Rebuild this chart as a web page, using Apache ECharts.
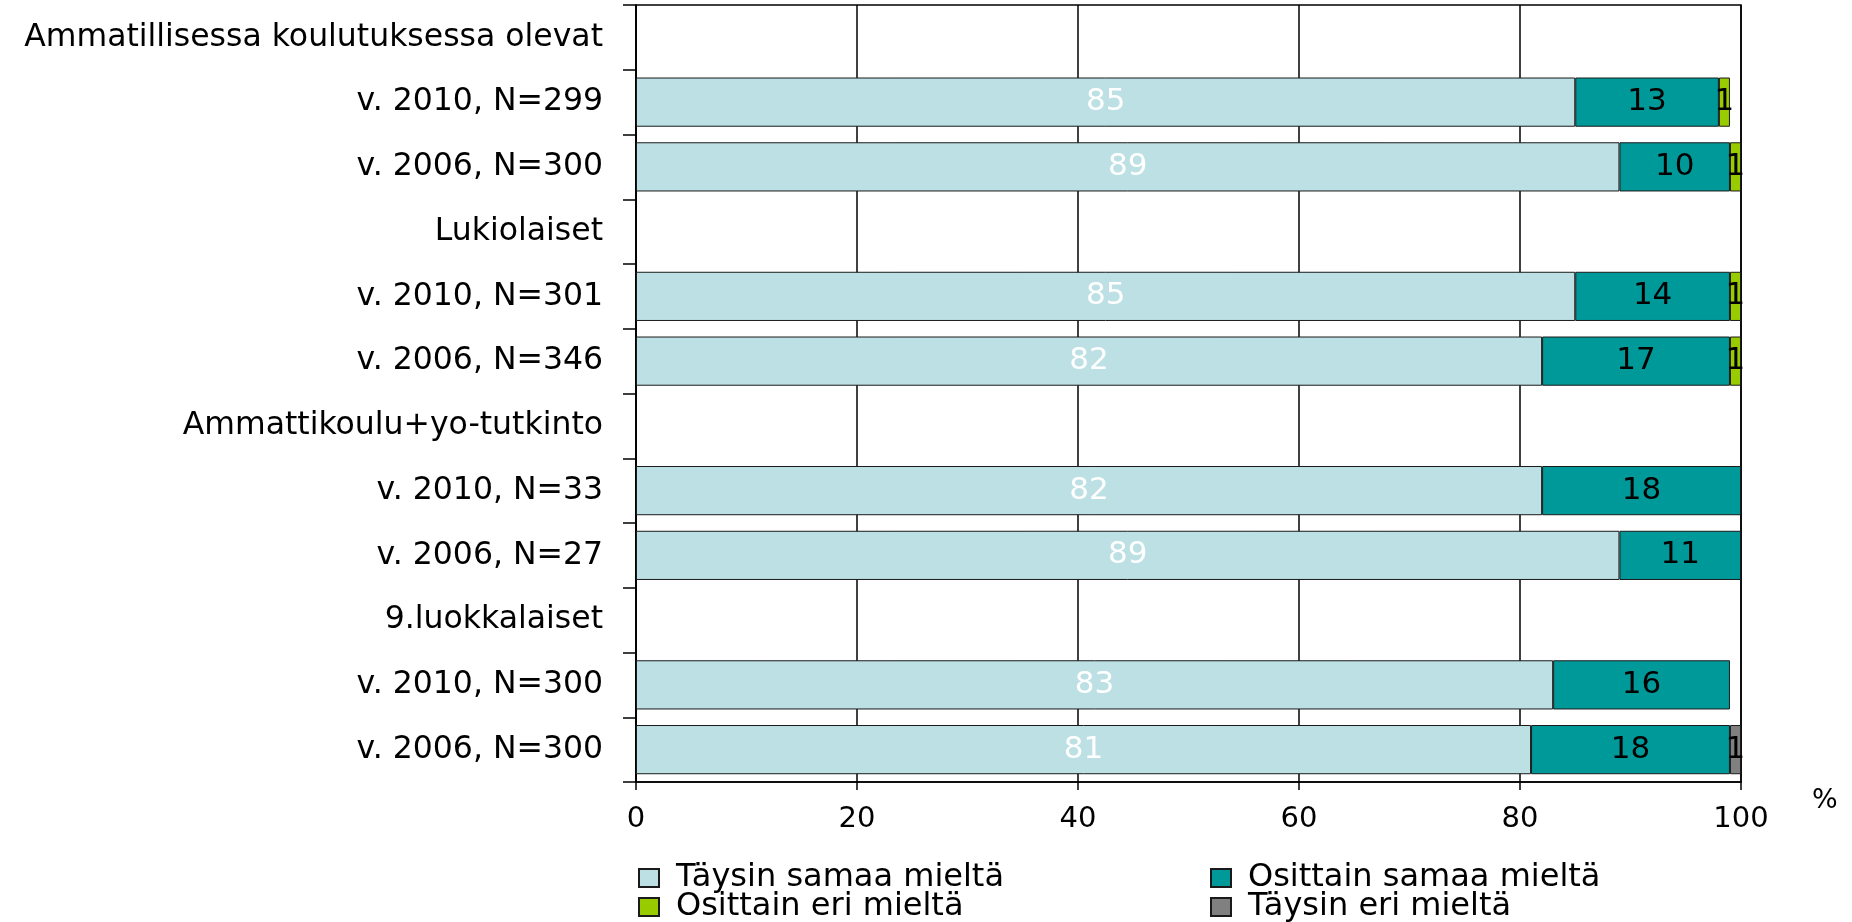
<!DOCTYPE html>
<html>
<head>
<meta charset="utf-8">
<script src="https://cdn.jsdelivr.net/npm/echarts@6/dist/echarts.min.js"></script>
<style>
html,body{margin:0;padding:0;background:#fff;}
#chart{width:1852px;height:922px;}
</style>
</head>
<body>
<div id="chart"></div>
<script>
var categories = ['Ammatillisessa koulutuksessa olevat','v. 2010, N=299','v. 2006, N=300','Lukiolaiset','v. 2010, N=301','v. 2006, N=346','Ammattikoulu+yo-tutkinto','v. 2010, N=33','v. 2006, N=27','9.luokkalaiset','v. 2010, N=300','v. 2006, N=300'];
var seriesNames = ['Täysin samaa mieltä','Osittain samaa mieltä','Osittain eri mieltä','Täysin eri mieltä'];
var taysinSamaa   = [null,85,89,null,85,82,null,82,89,null,83,81];
var osittainSamaa = [null,13,10,null,14,17,null,18,11,null,16,18];
var osittainEri   = [null,1,1,null,1,1,null,0,0,null,0,0];
var taysinEri     = [null,0,0,null,0,0,null,0,0,null,0,1];
var xTicks = [0,20,40,60,80,100];

var FONT = 'DejaVu Sans';
var colors = ['#BCE0E3','#009999','#99CC00','#808080'];
var labelColors = ['#ffffff','#000000','#000000','#000000'];
var allData = [taysinSamaa, osittainSamaa, osittainEri, taysinEri];

var series = allData.map(function(arr, i){
  return {
    name: seriesNames[i],
    type: 'bar',
    stack: 'total',
    barWidth: '76%',
    data: arr.map(function(v){ return (v === 0 || v === null) ? null : v; }),
    itemStyle: {color: colors[i], borderColor: '#1a1a1a', borderWidth: 1},
    label: {
      show: true, position: 'inside', color: labelColors[i],
      fontFamily: FONT, fontSize: 31
    },
    emphasis: {disabled: true}
  };
});

function mkLegend(name, left, top){
  return {
    data: [name], left: left, top: top, orient: 'horizontal', padding: 0,
    itemWidth: 20, itemHeight: 18, icon: 'rect',
    textStyle: {fontFamily: FONT, fontSize: 32, color: '#000', padding: [0,0,0,12]},
    selectedMode: false
  };
}

var chart = echarts.init(document.getElementById('chart'));
chart.setOption({
  animation: false,
  backgroundColor: '#fff',
  grid: {left: 636, right: 111, top: 5, bottom: 140, show: true, borderColor: '#000', borderWidth: 1.5, backgroundColor: 'transparent'},
  xAxis: {
    type: 'value', min: 0, max: 100, interval: 20,
    name: '%', nameLocation: 'end', nameGap: 71,
    nameTextStyle: {fontFamily: FONT, fontSize: 27, color: '#000', verticalAlign: 'top', align: 'left', padding: [5,0,0,0]},
    axisLine: {show: true, lineStyle: {color: '#000', width: 1.5}},
    axisTick: {show: true, length: 8, lineStyle: {color: '#000', width: 1.5}},
    axisLabel: {fontFamily: FONT, fontSize: 29, color: '#000', margin: 23,
      formatter: function(v){ return xTicks.indexOf(v) >= 0 ? String(v) : ''; }},
    splitLine: {show: true, lineStyle: {color: '#000', width: 1.5}}
  },
  yAxis: {
    type: 'category', data: categories, inverse: true,
    axisLine: {show: true, lineStyle: {color: '#000', width: 1.5}},
    axisTick: {show: true, length: 13, lineStyle: {color: '#000', width: 1.5}},
    axisLabel: {fontFamily: FONT, fontSize: 31.5, color: '#000', margin: 33},
    splitLine: {show: false}
  },
  legend: [
    mkLegend(seriesNames[0], 638, 862),
    mkLegend(seriesNames[1], 1210, 862),
    mkLegend(seriesNames[2], 638, 891),
    mkLegend(seriesNames[3], 1210, 891)
  ],
  series: series
});
</script>
</body>
</html>
